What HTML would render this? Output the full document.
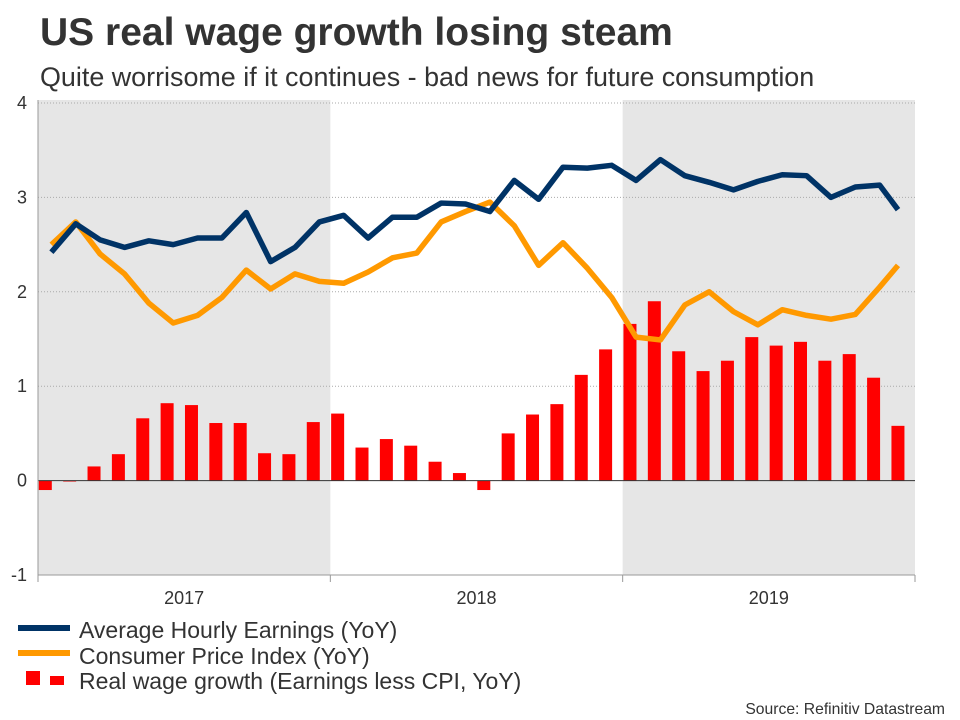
<!DOCTYPE html>
<html><head><meta charset="utf-8"><style>
body{margin:0;width:960px;height:720px;background:#fff;font-family:"Liberation Sans",sans-serif;overflow:hidden}
svg{display:block}
</style></head><body>
<svg id="chart" width="960" height="720">
<text x="40" y="45" font-size="39" font-weight="bold" fill="#333">US real wage growth losing steam</text>
<text x="40" y="86" font-size="26.9" fill="#333">Quite worrisome if it continues - bad news for future consumption</text>
<g id="bands"></g><g id="grid"></g><g id="bars"></g><g id="lines"></g><g id="axes"></g>
<g>
<rect x="18" y="625" width="52" height="6" fill="#003366"/>
<text x="79" y="638" font-size="23" fill="#333">Average Hourly Earnings (YoY)</text>
<rect x="18" y="650" width="52" height="6" fill="#ff9900"/>
<text x="79" y="664" font-size="23" fill="#333">Consumer Price Index (YoY)</text>
<rect x="26" y="671" width="14" height="14" fill="#ff0000"/>
<rect x="50" y="676" width="14" height="9" fill="#ff0000"/>
<text x="79" y="689" font-size="23" fill="#333">Real wage growth (Earnings less CPI, YoY)</text>
</g>
<text x="945" y="714" font-size="15.7" fill="#333" text-anchor="end">Source: Refinitiv Datastream</text>
</svg>
<script>
const years=["2017","2018","2019"];
const yTicks=[-1,0,1,2,3,4];
const ahe=[2.42,2.72,2.55,2.47,2.54,2.5,2.57,2.57,2.84,2.32,2.47,2.74,2.81,2.57,2.79,2.79,2.94,2.93,2.85,3.18,2.98,3.32,3.31,3.34,3.18,3.4,3.23,3.16,3.08,3.17,3.24,3.23,3.0,3.11,3.13,2.87];
const cpi=[2.5,2.74,2.4,2.19,1.88,1.67,1.75,1.94,2.23,2.03,2.19,2.11,2.09,2.21,2.36,2.41,2.74,2.85,2.95,2.7,2.28,2.52,2.25,1.94,1.52,1.49,1.86,2.0,1.79,1.65,1.81,1.75,1.71,1.76,2.05,2.28];
const realWage=[-0.1,-0.01,0.15,0.28,0.66,0.82,0.8,0.61,0.61,0.29,0.28,0.62,0.71,0.35,0.44,0.37,0.2,0.08,-0.1,0.5,0.7,0.81,1.12,1.39,1.66,1.9,1.37,1.16,1.27,1.52,1.43,1.47,1.27,1.34,1.09,0.58];
const NS="http://www.w3.org/2000/svg";
const X0=38,X1=915,Y0=575,Y1=103;
const monthW=(X1-X0)/36;
const y=v=>Y0-(v-(-1))*(Y0-Y1)/5;
const xm=i=>X0+i*monthW;
function mk(tag,attrs,parent){const e=document.createElementNS(NS,tag);for(const k in attrs)e.setAttribute(k,attrs[k]);document.getElementById(parent).appendChild(e);return e;}
[0,2].forEach(i=>{const r=mk('rect',{x:xm(i*12),y:Y1-3,width:12*monthW,height:Y0-Y1+3,fill:'#e6e6e6'},'bands');

});
yTicks.forEach(t=>{
 if(t>0){const l=mk('line',{x1:X0,x2:X1,y1:y(t),y2:y(t),stroke:'#aaa','stroke-dasharray':'1,2'},'grid');
 
 }
 const tx=mk('text',{x:27,y:y(t)+6,'font-size':18,fill:'#333','text-anchor':'end'},'axes');tx.textContent=t;
 
 
});
realWage.forEach((v,i)=>{const cx=xm(i)+monthW*0.3;const b=mk('rect',{x:cx-6.5,width:13,y:Math.min(y(v),y(0)),height:Math.max(Math.abs(y(v)-y(0)),0.5),fill:'#ff0000'},'bars');

});
const z=mk('line',{x1:X0,x2:X1,y1:y(0),y2:y(0),stroke:'#333','stroke-width':1},'axes');


function drawLine(d,col,name){const pts=d.map((v,i)=>{const px=i===35?898:xm(i)+monthW*0.55;return px+','+y(v)}).join(' ');
const p=mk('polyline',{points:pts,fill:'none',stroke:col,'stroke-width':5.5,'stroke-linejoin':'round'},'lines');

}
drawLine(cpi,'#ff9900','cpi-line');
drawLine(ahe,'#003366','ahe-line');
const ya=mk('line',{x1:X0,x2:X0,y1:Y1-3,y2:Y0,stroke:'#999'},'axes');


const xa=mk('line',{x1:X0,x2:X1,y1:Y0,y2:Y0,stroke:'#999'},'axes');


[0,1,2,3].forEach(i=>{const t=mk('line',{x1:xm(i*12),x2:xm(i*12),y1:Y0,y2:Y0+7,stroke:'#999'},'axes');

});
years.forEach((yr,i)=>{const t=mk('text',{x:xm(i*12+6),y:604,'font-size':18,fill:'#333','text-anchor':'middle'},'axes');t.textContent=yr;

});
</script>
</body></html>
